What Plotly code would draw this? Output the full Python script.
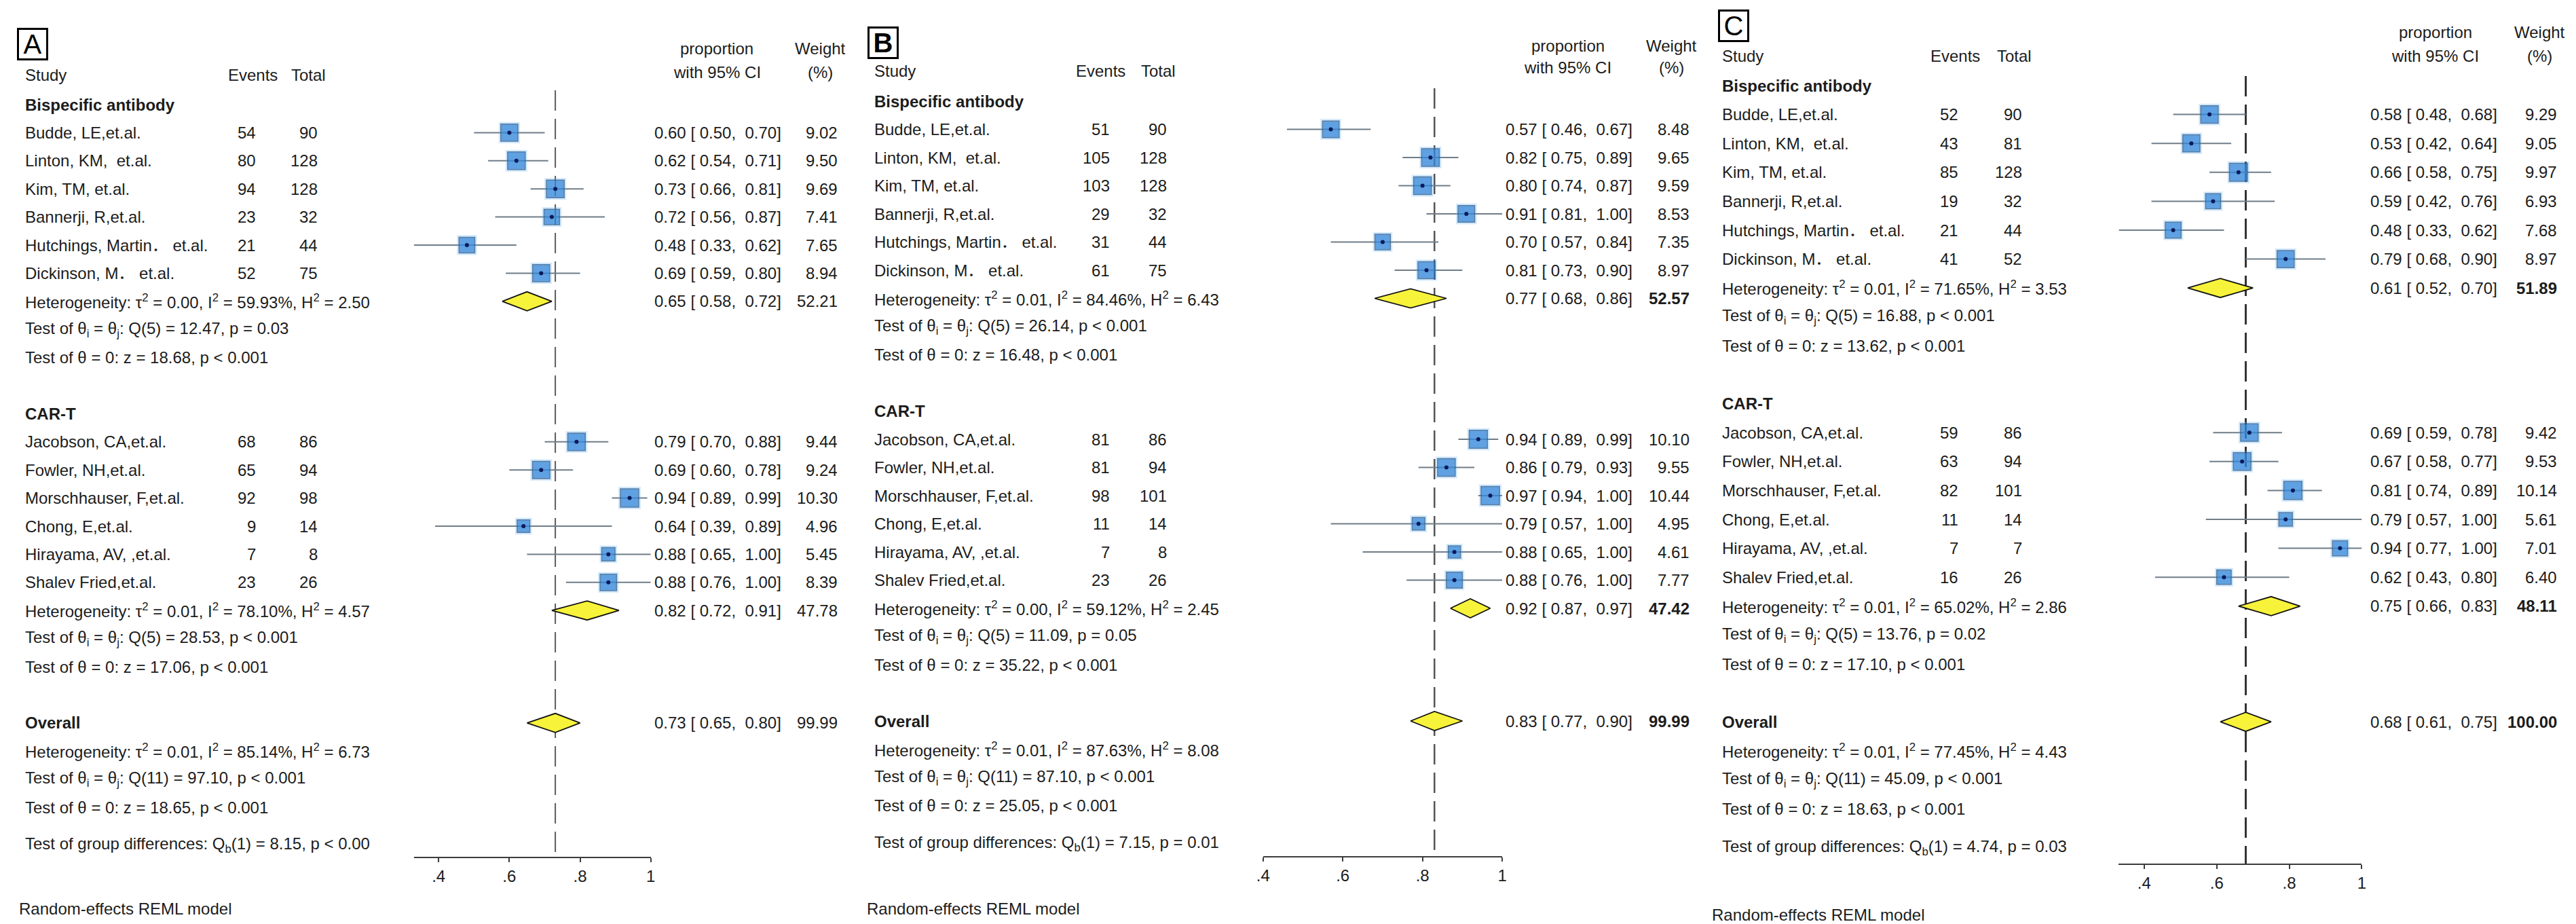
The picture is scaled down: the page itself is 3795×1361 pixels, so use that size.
import numpy as np
import plotly.graph_objects as go

W, H = 3795, 1361
FONT = "Liberation Sans, Arial, Noto Sans CJK SC, sans-serif"
TXT = "#1c1c1c"
FS = 24

# ------------------------------------------------------------------ shared labels
group_labels = ["Bispecific antibody", "CAR-T"]
bsab_studies = ["Budde, LE,et.al.", "Linton, KM,\u00a0 et.al.", "Kim, TM, et.al.",
                "Bannerji, R,et.al.", "Hutchings, Martin\uff0e et.al.", "Dickinson, M\uff0e et.al."]
cart_studies = ["Jacobson, CA,et.al.", "Fowler, NH,et.al.", "Morschhauser, F,et.al.",
                "Chong, E,et.al.", "Hirayama, AV, ,et.al.", "Shalev Fried,et.al."]
tick_values = [0.4, 0.6, 0.8, 1.0]
tick_labels = [".4", ".6", ".8", "1"]
panel_letters = ["A", "B", "C"]

# ------------------------------------------------------------------ panel A data
A_bsab_events = [54, 80, 94, 23, 21, 52]
A_bsab_totals = [90, 128, 128, 32, 44, 75]
A_bsab_prop = [0.60, 0.62, 0.73, 0.72, 0.48, 0.69]
A_bsab_lo = [0.50, 0.54, 0.66, 0.56, 0.33, 0.59]
A_bsab_hi = [0.70, 0.71, 0.81, 0.87, 0.62, 0.80]
A_bsab_wt = [9.02, 9.50, 9.69, 7.41, 7.65, 8.94]
A_cart_events = [68, 65, 92, 9, 7, 23]
A_cart_totals = [86, 94, 98, 14, 8, 26]
A_cart_prop = [0.79, 0.69, 0.94, 0.64, 0.88, 0.88]
A_cart_lo = [0.70, 0.60, 0.89, 0.39, 0.65, 0.76]
A_cart_hi = [0.88, 0.78, 0.99, 0.89, 1.00, 1.00]
A_cart_wt = [9.44, 9.24, 10.30, 4.96, 5.45, 8.39]
A_sub_prop = [0.65, 0.82]
A_sub_lo = [0.58, 0.72]
A_sub_hi = [0.72, 0.91]
A_sub_wt = [52.21, 47.78]
A_all_prop, A_all_lo, A_all_hi, A_all_wt = 0.73, 0.65, 0.80, 99.99
A_tau2 = ["0.00", "0.01", "0.01"]          # bispecific, CAR-T, overall
A_i2 = ["59.93", "78.10", "85.14"]
A_h2 = ["2.50", "4.57", "6.73"]
A_q = ["Q(5) = 12.47, p = 0.03", "Q(5) = 28.53, p &lt; 0.001", "Q(11) = 97.10, p &lt; 0.001"]
A_z = ["z = 18.68, p &lt; 0.001", "z = 17.06, p &lt; 0.001", "z = 18.65, p &lt; 0.001"]
A_group = "Q<sub>b</sub>(1) = 8.15, p &lt; 0.00"

# ------------------------------------------------------------------ panel B data
B_bsab_events = [51, 105, 103, 29, 31, 61]
B_bsab_totals = [90, 128, 128, 32, 44, 75]
B_bsab_prop = [0.57, 0.82, 0.80, 0.91, 0.70, 0.81]
B_bsab_lo = [0.46, 0.75, 0.74, 0.81, 0.57, 0.73]
B_bsab_hi = [0.67, 0.89, 0.87, 1.00, 0.84, 0.90]
B_bsab_wt = [8.48, 9.65, 9.59, 8.53, 7.35, 8.97]
B_cart_events = [81, 81, 98, 11, 7, 23]
B_cart_totals = [86, 94, 101, 14, 8, 26]
B_cart_prop = [0.94, 0.86, 0.97, 0.79, 0.88, 0.88]
B_cart_lo = [0.89, 0.79, 0.94, 0.57, 0.65, 0.76]
B_cart_hi = [0.99, 0.93, 1.00, 1.00, 1.00, 1.00]
B_cart_wt = [10.10, 9.55, 10.44, 4.95, 4.61, 7.77]
B_sub_prop = [0.77, 0.92]
B_sub_lo = [0.68, 0.87]
B_sub_hi = [0.86, 0.97]
B_sub_wt = [52.57, 47.42]
B_all_prop, B_all_lo, B_all_hi, B_all_wt = 0.83, 0.77, 0.90, 99.99
B_tau2 = ["0.01", "0.00", "0.01"]
B_i2 = ["84.46", "59.12", "87.63"]
B_h2 = ["6.43", "2.45", "8.08"]
B_q = ["Q(5) = 26.14, p &lt; 0.001", "Q(5) = 11.09, p = 0.05", "Q(11) = 87.10, p &lt; 0.001"]
B_z = ["z = 16.48, p &lt; 0.001", "z = 35.22, p &lt; 0.001", "z = 25.05, p &lt; 0.001"]
B_group = "Q<sub>b</sub>(1) = 7.15, p = 0.01"

# ------------------------------------------------------------------ panel C data
C_bsab_events = [52, 43, 85, 19, 21, 41]
C_bsab_totals = [90, 81, 128, 32, 44, 52]
C_bsab_prop = [0.58, 0.53, 0.66, 0.59, 0.48, 0.79]
C_bsab_lo = [0.48, 0.42, 0.58, 0.42, 0.33, 0.68]
C_bsab_hi = [0.68, 0.64, 0.75, 0.76, 0.62, 0.90]
C_bsab_wt = [9.29, 9.05, 9.97, 6.93, 7.68, 8.97]
C_cart_events = [59, 63, 82, 11, 7, 16]
C_cart_totals = [86, 94, 101, 14, 7, 26]
C_cart_prop = [0.69, 0.67, 0.81, 0.79, 0.94, 0.62]
C_cart_lo = [0.59, 0.58, 0.74, 0.57, 0.77, 0.43]
C_cart_hi = [0.78, 0.77, 0.89, 1.00, 1.00, 0.80]
C_cart_wt = [9.42, 9.53, 10.14, 5.61, 7.01, 6.40]
C_sub_prop = [0.61, 0.75]
C_sub_lo = [0.52, 0.66]
C_sub_hi = [0.70, 0.83]
C_sub_wt = [51.89, 48.11]
C_all_prop, C_all_lo, C_all_hi, C_all_wt = 0.68, 0.61, 0.75, 100.00
C_tau2 = ["0.01", "0.01", "0.01"]
C_i2 = ["71.65", "65.02", "77.45"]
C_h2 = ["3.53", "2.86", "4.43"]
C_q = ["Q(5) = 16.88, p &lt; 0.001", "Q(5) = 13.76, p = 0.02", "Q(11) = 45.09, p &lt; 0.001"]
C_z = ["z = 13.62, p &lt; 0.001", "z = 17.10, p &lt; 0.001", "z = 18.63, p &lt; 0.001"]
C_group = "Q<sub>b</sub>(1) = 4.74, p = 0.03"

# ------------------------------------------------------------------ assemble panel data
panel_data = [
    dict(ev=[A_bsab_events, A_cart_events], tot=[A_bsab_totals, A_cart_totals],
         prop=[A_bsab_prop, A_cart_prop], lo=[A_bsab_lo, A_cart_lo], hi=[A_bsab_hi, A_cart_hi],
         wt=[A_bsab_wt, A_cart_wt], sprop=A_sub_prop, slo=A_sub_lo, shi=A_sub_hi, swt=A_sub_wt,
         oall=(A_all_prop, A_all_lo, A_all_hi, A_all_wt), tau2=A_tau2, i2=A_i2, h2=A_h2,
         q=A_q, z=A_z, group=A_group),
    dict(ev=[B_bsab_events, B_cart_events], tot=[B_bsab_totals, B_cart_totals],
         prop=[B_bsab_prop, B_cart_prop], lo=[B_bsab_lo, B_cart_lo], hi=[B_bsab_hi, B_cart_hi],
         wt=[B_bsab_wt, B_cart_wt], sprop=B_sub_prop, slo=B_sub_lo, shi=B_sub_hi, swt=B_sub_wt,
         oall=(B_all_prop, B_all_lo, B_all_hi, B_all_wt), tau2=B_tau2, i2=B_i2, h2=B_h2,
         q=B_q, z=B_z, group=B_group),
    dict(ev=[C_bsab_events, C_cart_events], tot=[C_bsab_totals, C_cart_totals],
         prop=[C_bsab_prop, C_cart_prop], lo=[C_bsab_lo, C_cart_lo], hi=[C_bsab_hi, C_cart_hi],
         wt=[C_bsab_wt, C_cart_wt], sprop=C_sub_prop, slo=C_sub_lo, shi=C_sub_hi, swt=C_sub_wt,
         oall=(C_all_prop, C_all_lo, C_all_hi, C_all_wt), tau2=C_tau2, i2=C_i2, h2=C_h2,
         q=C_q, z=C_z, group=C_group),
]

# ------------------------------------------------------------------ layout (pixel positions)
panel_geom = [
    dict(row0=146, drow=41.4, x04=631, x1=945, name_x=17, ev_r=363, tot_r=454, ev_h=317, tot_h=411,
         ci_x=948, wt_r=1223, prop_c=1043, wt_c=1196, hdr1=63, hdr2=98, study_y=102,
         axis_y=1255, dash_top=125, model_x=8, model_y=1330, box=(30, 57), box_bold=False,
         dash_col="#5a5a5a", dash_w=2, bold_sub=False),
    dict(row0=141, drow=41.5, x04=1851, x1=2205, name_x=1274, ev_r=1626, tot_r=1711, ev_h=1572, tot_h=1668,
         ci_x=2208, wt_r=2484, prop_c=2302, wt_c=2455, hdr1=59, hdr2=91, study_y=96,
         axis_y=1254, dash_top=122, model_x=1263, model_y=1330, box=(1289, 55), box_bold=True,
         dash_col="#555555", dash_w=2.5, bold_sub=True),
    dict(row0=118, drow=42.6, x04=3155, x1=3477, name_x=2528, ev_r=2882, tot_r=2976, ev_h=2837, tot_h=2935,
         ci_x=3488, wt_r=3768, prop_c=3586, wt_c=3740, hdr1=39, hdr2=74, study_y=74,
         axis_y=1265, dash_top=104, model_x=2513, model_y=1339, box=(2547, 30), box_bold=False,
         dash_col="#333333", dash_w=3, bold_sub=True),
]

SQ_FILL = "#2f84d6"
SQ_LINE = "#284f78"
GLOW = "rgba(90,175,255,0.40)"
DOT = "#0b1a5a"
CI_COL = "#6f7d88"
DIA_FILL = "#f7f33a"
DIA_LINE = "#141414"

fig = go.Figure()
annotations = []
layout_axes = {}


def ann(x_px, y, text, yref, anchor="left", size=FS, bold=False, color=TXT, yanchor="middle"):
    annotations.append(dict(
        x=x_px / W, xref="paper", y=y, yref=yref, text=("<b>%s</b>" % text) if bold else text,
        showarrow=False, xanchor=anchor, yanchor=yanchor,
        font=dict(family=FONT, size=size, color=color)))


for k, (D, G) in enumerate(zip(panel_data, panel_geom)):
    s = "" if k == 0 else str(k + 1)
    xa, ya = "x" + s, "y" + s
    yref = "y" + s
    row0, drow = G["row0"], G["drow"]
    to_row = lambda px: (px - row0) / drow

    all_lo = D["lo"][0] + D["lo"][1]
    xmin = min(0.4, min(all_lo))
    px_per = (G["x1"] - G["x04"]) / 0.6
    dom_lo = G["x04"] + (xmin - 0.4) * px_per

    layout_axes["xaxis" + s] = dict(
        domain=[dom_lo / W, G["x1"] / W], range=[xmin, 1.0], anchor="free",
        position=1 - G["axis_y"] / H, showgrid=False, zeroline=False, showline=True,
        linecolor="#3c3c3c", linewidth=2, ticks="outside", ticklen=6, tickwidth=2,
        tickcolor="#3c3c3c", tickvals=tick_values, ticktext=tick_labels,
        tickfont=dict(family=FONT, size=FS, color=TXT), fixedrange=True)
    layout_axes["yaxis" + s] = dict(
        domain=[0, 1], range=[to_row(H), to_row(0)], visible=False, anchor=xa, fixedrange=True)

    rows = [list(range(1, 7)), list(range(12, 18))]
    sub_rows = [7, 18]
    overall_row = 22

    # dashed overall line
    ov = D["oall"]
    fig.add_trace(go.Scatter(x=[ov[0], ov[0]], y=[to_row(G["dash_top"]), to_row(G["axis_y"])],
                             mode="lines", line=dict(color=G["dash_col"], width=G["dash_w"], dash="30px,12px"),
                             xaxis=xa, yaxis=ya, hoverinfo="skip", showlegend=False))

    # CI lines
    cx, cy = [], []
    for g in range(2):
        for r, lo, hi in zip(rows[g], D["lo"][g], D["hi"][g]):
            cx += [lo, hi, None]
            cy += [r, r, None]
    fig.add_trace(go.Scatter(x=cx, y=cy, mode="lines", line=dict(color=CI_COL, width=2),
                             xaxis=xa, yaxis=ya, hoverinfo="skip", showlegend=False, cliponaxis=False))

    px_all = D["prop"][0] + D["prop"][1]
    r_all = rows[0] + rows[1]
    w_all = np.array(D["wt"][0] + D["wt"][1])
    sizes = 8.4 * np.sqrt(w_all)
    fig.add_trace(go.Scatter(x=px_all, y=r_all, mode="markers",
                             marker=dict(symbol="square", size=sizes + 6, color=GLOW, line=dict(width=0)),
                             xaxis=xa, yaxis=ya, hoverinfo="skip", showlegend=False, cliponaxis=False))
    fig.add_trace(go.Scatter(x=px_all, y=r_all, mode="markers",
                             marker=dict(symbol="square", size=sizes, color=SQ_FILL,
                                         line=dict(color=SQ_LINE, width=1.5)),
                             xaxis=xa, yaxis=ya, hoverinfo="skip", showlegend=False, cliponaxis=False))
    fig.add_trace(go.Scatter(x=px_all, y=r_all, mode="markers",
                             marker=dict(symbol="circle", size=6, color=DOT, line=dict(width=0)),
                             xaxis=xa, yaxis=ya, hoverinfo="skip", showlegend=False, cliponaxis=False))

    # diamonds
    h = 14.0 / drow
    dia = [(D["sprop"][g], D["slo"][g], D["shi"][g], sub_rows[g]) for g in range(2)]
    dia.append((ov[0], ov[1], ov[2], overall_row))
    for est, lo, hi, r in dia:
        fig.add_trace(go.Scatter(x=[lo, est, hi, est, lo], y=[r, r - h, r, r + h, r],
                                 mode="lines", fill="toself", fillcolor=DIA_FILL,
                                 line=dict(color=DIA_LINE, width=1.8),
                                 xaxis=xa, yaxis=ya, hoverinfo="skip", showlegend=False, cliponaxis=False))

    # -------------------------------------------------- text columns
    ann(G["name_x"], to_row(G["study_y"]), "Study", yref)
    ann(G["ev_h"], to_row(G["study_y"]), "Events", yref)
    ann(G["tot_h"], to_row(G["study_y"]), "Total", yref)
    ann(G["prop_c"], to_row(G["hdr1"]), "proportion", yref, anchor="center")
    ann(G["prop_c"], to_row(G["hdr2"]), "with 95% CI", yref, anchor="center")
    ann(G["wt_c"], to_row(G["hdr1"]), "Weight", yref, anchor="center")
    ann(G["wt_c"], to_row(G["hdr2"]), "(%)", yref, anchor="center")

    names = [bsab_studies, cart_studies]
    hdr_rows = [0, 11]
    stats_rows = [[7, 8, 9], [18, 19, 20], [23, 24, 25]]
    for g in range(2):
        ann(G["name_x"], hdr_rows[g], group_labels[g], yref, bold=True)
        for r, nm, e, t, p, lo, hi, w in zip(rows[g], names[g], D["ev"][g], D["tot"][g],
                                             D["prop"][g], D["lo"][g], D["hi"][g], D["wt"][g]):
            ann(G["name_x"], r, nm, yref)
            ann(G["ev_r"], r, str(e), yref, anchor="right")
            ann(G["tot_r"], r, str(t), yref, anchor="right")
            ann(G["ci_x"], r, "%.2f [ %.2f,\u00a0 %.2f]" % (p, lo, hi), yref)
            ann(G["wt_r"], r, "%.2f" % w, yref, anchor="right")
        sr = sub_rows[g]
        ann(G["ci_x"], sr, "%.2f [ %.2f,\u00a0 %.2f]" % (D["sprop"][g], D["slo"][g], D["shi"][g]), yref)
        ann(G["wt_r"], sr, "%.2f" % D["swt"][g], yref, anchor="right", bold=G["bold_sub"])

    ann(G["name_x"], overall_row, "Overall", yref, bold=True)
    ann(G["ci_x"], overall_row, "%.2f [ %.2f,\u00a0 %.2f]" % (ov[0], ov[1], ov[2]), yref)
    ann(G["wt_r"], overall_row, "%.2f" % ov[3], yref, anchor="right", bold=G["bold_sub"])

    for j in range(3):
        r1, r2, r3 = stats_rows[j]
        ann(G["name_x"], r1, "Heterogeneity: \u03c4<sup>2</sup> = %s, I<sup>2</sup> = %s%%, H<sup>2</sup> = %s"
            % (D["tau2"][j], D["i2"][j], D["h2"][j]), yref)
        ann(G["name_x"], r2, "Test of \u03b8<sub>i</sub> = \u03b8<sub>j</sub>: " + D["q"][j], yref)
        ann(G["name_x"], r3, "Test of \u03b8 = 0: " + D["z"][j], yref)
    ann(G["name_x"], 26.35, "Test of group differences: " + D["group"], yref)

    ann(G["model_x"], to_row(G["model_y"]), "Random-effects REML model", yref)

    # panel letter box
    bx, by = G["box"]
    annotations.append(dict(
        x=bx / W, xref="paper", y=1 - by / H, yref="paper",
        text=("<b>%s</b>" % panel_letters[k]) if G["box_bold"] else panel_letters[k],
        showarrow=False, xanchor="center", yanchor="middle", width=40, height=42,
        bordercolor="#000000", borderwidth=3, borderpad=0, bgcolor="#ffffff",
        font=dict(family=FONT, size=40, color="#000000")))

fig.update_layout(
    width=W, height=H, margin=dict(l=0, r=0, t=0, b=0),
    paper_bgcolor="white", plot_bgcolor="white", showlegend=False,
    annotations=annotations, **layout_axes)

fig.write_html("out.html", config={"displayModeBar": False})
